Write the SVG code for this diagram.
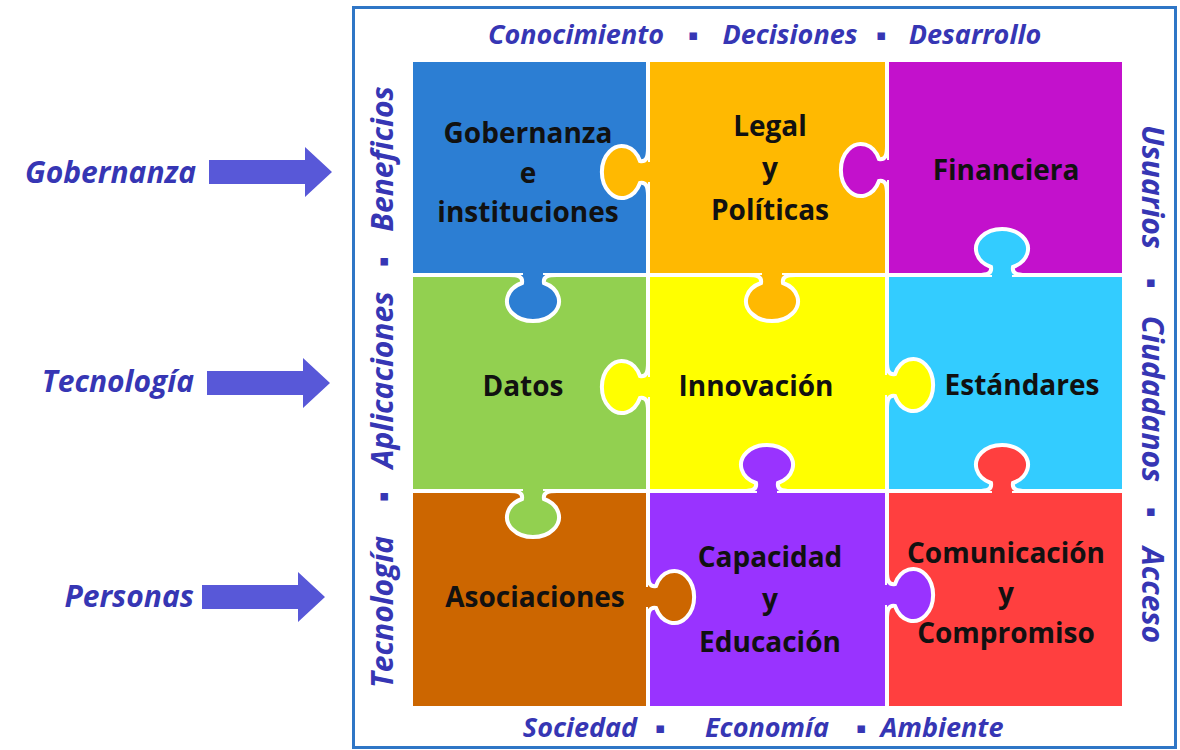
<svg xmlns="http://www.w3.org/2000/svg" xmlns:xlink="http://www.w3.org/1999/xlink" width="1180" height="750" viewBox="0 0 1180 750">
<style>
.lbl{font-family:"Open Sans","Noto Sans",sans-serif;font-weight:700;font-size:28px;fill:#111;text-anchor:middle}
.side{font-family:"Open Sans","Noto Sans","DejaVu Sans",sans-serif;font-style:italic;font-weight:700;font-size:27px;fill:#3636B4;text-anchor:middle}
.vert{font-size:30px}
.dot{font-family:"DejaVu Sans",sans-serif;font-style:normal;font-size:15px}
.left{font-family:"Open Sans","Noto Sans",sans-serif;font-style:italic;font-weight:700;font-size:30px;fill:#3636B4;text-anchor:end}
.arrow{fill:#5858D8}
</style>
<defs>
<g id="tab">
<rect x="-10" y="-5" width="20" height="14"/>
<path d="M -24 0 C -14 0 -10 2 -11 8 A 26 20 0 1 0 11 8 C 10 2 14 0 24 0" stroke="#fff" stroke-width="4"/>
</g>
<polygon id="arr" points="0,-12 96,-12 96,-25 123,0 96,25 96,12 0,12"/>
</defs>
<rect width="1180" height="750" fill="#fff"/>
<rect x="353.5" y="7.5" width="822" height="740" fill="#fff" stroke="#2F76C6" stroke-width="3"/>

<g id="cells">
<g id="gobernanza"><rect x="413" y="62" width="233" height="211" fill="#2C7ED3"/></g>
<g id="legal"><rect x="650" y="62" width="235" height="211" fill="#FFB901"/></g>
<g id="financiera"><rect x="889" y="62" width="233" height="211" fill="#C311CC"/></g>
<g id="datos"><rect x="413" y="277" width="233" height="212" fill="#92D050"/></g>
<g id="innovacion"><rect x="650" y="277" width="235" height="212" fill="#FFFF00"/></g>
<g id="estandares"><rect x="889" y="277" width="233" height="212" fill="#33CCFF"/></g>
<g id="asociaciones"><rect x="413" y="493" width="233" height="213" fill="#CC6600"/></g>
<g id="capacidad"><rect x="650" y="493" width="235" height="213" fill="#9933FF"/></g>
<g id="comunicacion"><rect x="889" y="493" width="233" height="213" fill="#FF3F3F"/></g>
</g>

<g id="connectors">
<use xlink:href="#tab" href="#tab" transform="translate(533 275)" fill="#2C7ED3"/>
<use xlink:href="#tab" href="#tab" transform="translate(772 275)" fill="#FFB901"/>
<use xlink:href="#tab" href="#tab" transform="translate(648 172) rotate(90)" fill="#FFB901"/>
<use xlink:href="#tab" href="#tab" transform="translate(887 170) rotate(90)" fill="#C311CC"/>
<use xlink:href="#tab" href="#tab" transform="translate(1002 275) rotate(180)" fill="#33CCFF"/>
<use xlink:href="#tab" href="#tab" transform="translate(648 387) rotate(90)" fill="#FFFF00"/>
<use xlink:href="#tab" href="#tab" transform="translate(887 385) rotate(-90)" fill="#FFFF00"/>
<use xlink:href="#tab" href="#tab" transform="translate(767 491) rotate(180)" fill="#9933FF"/>
<use xlink:href="#tab" href="#tab" transform="translate(1002 491) rotate(180)" fill="#FF3F3F"/>
<use xlink:href="#tab" href="#tab" transform="translate(533 491)" fill="#92D050"/>
<use xlink:href="#tab" href="#tab" transform="translate(648 597) rotate(-90)" fill="#CC6600"/>
<use xlink:href="#tab" href="#tab" transform="translate(887 595) rotate(-90)" fill="#9933FF"/>
</g>

<g id="labels">
<text class="lbl" x="528" y="143">Gobernanza</text>
<text class="lbl" x="528" y="183">e</text>
<text class="lbl" x="528" y="222">instituciones</text>
<text class="lbl" x="770" y="136">Legal</text>
<text class="lbl" x="770" y="178">y</text>
<text class="lbl" x="770" y="220">Políticas</text>
<text class="lbl" x="1006" y="180">Financiera</text>
<text class="lbl" x="523" y="396">Datos</text>
<text class="lbl" x="756" y="396">Innovación</text>
<text class="lbl" x="1022" y="395">Estándares</text>
<text class="lbl" x="535" y="607">Asociaciones</text>
<text class="lbl" x="770" y="567">Capacidad</text>
<text class="lbl" x="770" y="609">y</text>
<text class="lbl" x="770" y="652">Educación</text>
<text class="lbl" x="1006" y="563">Comunicación</text>
<text class="lbl" x="1006" y="603">y</text>
<text class="lbl" x="1006" y="643">Compromiso</text>
</g>

<g id="frame-text">
<text class="side" y="44"><tspan x="576">Conocimiento</tspan><tspan class="dot" x="693" dy="-4">▪</tspan><tspan x="790" dy="4">Decisiones</tspan><tspan class="dot" x="881" dy="-4">▪</tspan><tspan x="975" dy="4">Desarrollo</tspan></text>
<text class="side" y="737"><tspan x="580">Sociedad</tspan><tspan class="dot" x="660" dy="-4">▪</tspan><tspan x="767" dy="4">Economía</tspan><tspan class="dot" x="861" dy="-4">▪</tspan><tspan x="942" dy="4">Ambiente</tspan></text>
<text class="side vert" transform="translate(393 0) rotate(-90)" y="0"><tspan x="-612">Tecnología</tspan><tspan class="dot" x="-497" dy="-5">▪</tspan><tspan x="-380" dy="5">Aplicaciones</tspan><tspan class="dot" x="-262" dy="-5">▪</tspan><tspan x="-159" dy="5">Beneficios</tspan></text>
<text class="side vert" transform="translate(1142 0) rotate(90)" y="0"><tspan x="187">Usuarios</tspan><tspan class="dot" x="283" dy="-5">▪</tspan><tspan x="399" dy="5">Ciudadanos</tspan><tspan class="dot" x="512" dy="-5">▪</tspan><tspan x="595" dy="5">Acceso</tspan></text>
</g>

<g id="inputs">
<g id="in-gobernanza"><text class="left" x="196" y="183">Gobernanza</text><use xlink:href="#arr" href="#arr" transform="translate(209 172)" class="arrow"/></g>
<g id="in-tecnologia"><text class="left" x="194" y="392">Tecnología</text><use xlink:href="#arr" href="#arr" transform="translate(207 383)" class="arrow"/></g>
<g id="in-personas"><text class="left" x="194" y="607">Personas</text><use xlink:href="#arr" href="#arr" transform="translate(202 597)" class="arrow"/></g>
</g>
</svg>
